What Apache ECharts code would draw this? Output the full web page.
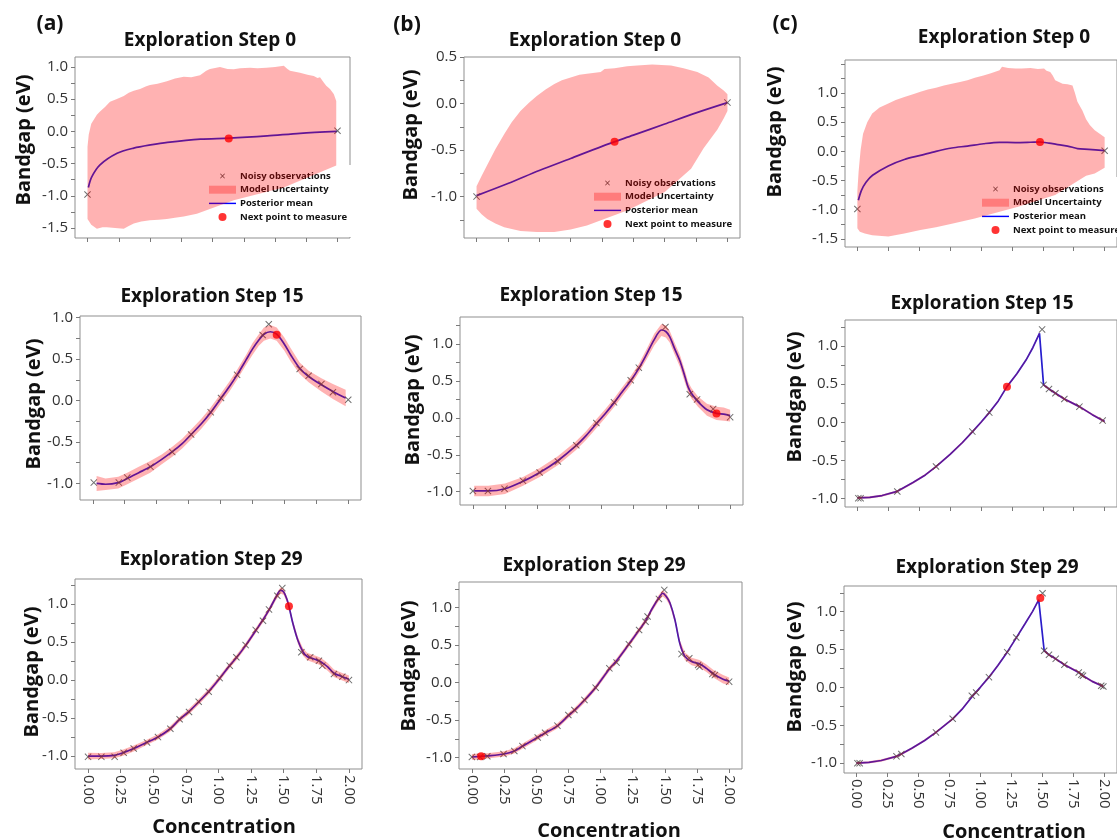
<!DOCTYPE html>
<html>
<head>
<meta charset="utf-8">
<script src="https://cdn.jsdelivr.net/npm/echarts@6/dist/echarts.min.js"></script>
<style>html,body{margin:0;padding:0;background:#fff}#c{width:1117px;height:839px}</style>
</head>
<body>
<div id="c"></div>
<script>
// ---------------- DATA ----------------
const xTicks = [0, 0.25, 0.5, 0.75, 1, 1.25, 1.5, 1.75, 2];

const yTicksA1 = [-1.5,-1.25,-1,-0.75,-0.5,-0.25,0,0.25,0.5,0.75,1];
const yLabelsA1 = [-1.5,-1,-0.5,0,0.5,1];
const yTicksB1 = [-1.25,-1,-0.75,-0.5,-0.25,0,0.25,0.5];
const yLabelsB1 = [-1,-0.5,0,0.5];
const yTicksC1 = [-1.5,-1.25,-1,-0.75,-0.5,-0.25,0,0.25,0.5,0.75,1,1.25,1.5];
const yLabelsC1 = [-1.5,-1,-0.5,0,0.5,1];
const yTicksA2 = [-1,-0.75,-0.5,-0.25,0,0.25,0.5,0.75,1];
const yTicksStd = [-1,-0.75,-0.5,-0.25,0,0.25,0.5,0.75,1,1.25];
const yLabelsStd = [-1,-0.5,0,0.5,1];

const titles = ['Exploration Step 0','Exploration Step 0','Exploration Step 0',
                'Exploration Step 15','Exploration Step 15','Exploration Step 15',
                'Exploration Step 29','Exploration Step 29','Exploration Step 29'];
const legendNames = ['Noisy observations','Model Uncertainty','Posterior mean','Next point to measure'];

// ----- (a) Step 0
const a1Obs = [[0.0,-0.98],[2.0,0.01]];
const a1Next = [1.13,-0.11];
const a1Mean = [[0.007,-0.87],[0.033,-0.71],[0.10,-0.52],[0.237,-0.34],[0.37,-0.26],[0.504,-0.21],[0.64,-0.17],[0.904,-0.12],[1.133,-0.105],[1.437,-0.07],[1.70,-0.03],[1.997,0.0]];
const a1Upper = [[0.0,-0.24],[0.01,-0.05],[0.03,0.12],[0.075,0.26],[0.10,0.31],[0.14,0.38],[0.18,0.46],[0.23,0.50],[0.29,0.55],[0.33,0.60],[0.37,0.63],[0.42,0.66],[0.47,0.70],[0.50,0.72],[0.56,0.74],[0.635,0.78],[0.70,0.82],[0.77,0.85],[0.83,0.84],[0.90,0.87],[0.95,0.94],[0.98,0.97],[1.03,0.99],[1.06,1.0],[1.12,0.97],[1.17,0.965],[1.22,0.98],[1.30,0.99],[1.36,0.98],[1.43,0.99],[1.50,1.0],[1.57,1.02],[1.60,0.97],[1.62,0.94],[1.70,0.91],[1.76,0.88],[1.81,0.86],[1.84,0.83],[1.86,0.84],[1.89,0.76],[1.91,0.71],[1.94,0.66],[1.97,0.58],[1.99,0.47]];
const a1Lower = [[0.0,-1.36],[0.03,-1.45],[0.075,-1.51],[0.12,-1.49],[0.155,-1.49],[0.22,-1.50],[0.29,-1.51],[0.33,-1.47],[0.37,-1.43],[0.43,-1.40],[0.50,-1.38],[0.57,-1.37],[0.635,-1.36],[0.70,-1.34],[0.77,-1.32],[0.875,-1.28],[1.17,-1.07],[1.57,-0.87],[1.99,-0.53]];

// ----- (b) Step 0
const b1Obs = [[0.0,-1.0],[2.0,0.01]];
const b1Next = [1.10,-0.41];
const b1Mean = [[0.0,-0.99],[0.25,-0.86],[0.5,-0.72],[0.75,-0.59],[1.0,-0.46],[1.25,-0.34],[1.5,-0.22],[1.75,-0.10],[2.0,0.01]];
const b1Upper = [[0.0,-0.89],[0.04,-0.78],[0.085,-0.66],[0.15,-0.49],[0.22,-0.33],[0.28,-0.20],[0.35,-0.08],[0.42,0.01],[0.48,0.08],[0.55,0.15],[0.62,0.21],[0.68,0.25],[0.75,0.28],[0.82,0.31],[0.88,0.32],[0.99,0.34],[1.02,0.37],[1.10,0.38],[1.20,0.40],[1.28,0.41],[1.40,0.42],[1.55,0.41],[1.65,0.38],[1.76,0.34],[1.85,0.28],[1.92,0.19],[1.97,0.14],[2.0,0.10]];
const b1Lower = [[0.0,-1.13],[0.04,-1.19],[0.085,-1.24],[0.15,-1.29],[0.22,-1.33],[0.35,-1.37],[0.48,-1.38],[0.62,-1.38],[0.75,-1.355],[0.88,-1.31],[1.2,-1.15],[1.5,-0.95],[1.71,-0.70],[1.81,-0.48],[1.92,-0.28],[1.97,-0.16],[2.0,-0.08]];

// ----- (c) Step 0
const c1Obs = [[0.0,-0.99],[2.0,0.01]];
const c1Next = [1.477,0.16];
const c1Mean = [[0.008,-0.84],[0.033,-0.67],[0.07,-0.53],[0.123,-0.41],[0.25,-0.25],[0.38,-0.14],[0.51,-0.07],[0.636,0.0],[0.764,0.057],[0.89,0.09],[1.02,0.13],[1.15,0.154],[1.277,0.15],[1.40,0.155],[1.477,0.16],[1.55,0.14],[1.61,0.12],[1.70,0.09],[1.74,0.07],[1.78,0.046],[1.87,0.034],[2.0,0.012]];
const c1Upper = [[0.0,-0.68],[0.01,-0.35],[0.026,0.02],[0.046,0.30],[0.08,0.50],[0.12,0.65],[0.18,0.75],[0.25,0.82],[0.31,0.88],[0.38,0.93],[0.45,0.98],[0.51,1.02],[0.57,1.06],[0.636,1.09],[0.70,1.13],[0.764,1.16],[0.83,1.19],[0.89,1.22],[0.95,1.26],[1.02,1.30],[1.08,1.34],[1.15,1.39],[1.17,1.45],[1.22,1.43],[1.28,1.42],[1.33,1.42],[1.40,1.43],[1.46,1.41],[1.51,1.42],[1.53,1.38],[1.56,1.36],[1.58,1.30],[1.60,1.22],[1.63,1.19],[1.66,1.16],[1.70,1.15],[1.74,1.13],[1.76,1.0],[1.78,0.85],[1.82,0.70],[1.85,0.55],[1.88,0.45],[1.92,0.36],[1.96,0.30],[2.0,0.24]];
const c1Lower = [[0.0,-1.32],[0.02,-1.38],[0.06,-1.41],[0.12,-1.44],[0.25,-1.46],[0.38,-1.41],[0.51,-1.35],[0.636,-1.30],[0.764,-1.24],[0.95,-1.15],[1.3,-0.95],[1.6,-0.75],[1.85,-0.42],[1.92,-0.38],[2.0,-0.28]];

// ----- (a) Step 15
const a2Obs = [[0.008,-0.99],[0.204,-0.99],[0.27,-0.93],[0.452,-0.80],[0.622,-0.62],[0.77,-0.41],[0.923,-0.14],[1.004,0.03],[1.13,0.31],[1.33,0.79],[1.378,0.92],[1.62,0.38],[1.69,0.30],[1.79,0.20],[1.88,0.10],[2.0,0.01]];
const a2Next = [1.44,0.795];
const a2Mean = [[0.03,-1.0],[0.10,-1.01],[0.20,-0.99],[0.27,-0.94],[0.36,-0.87],[0.45,-0.80],[0.54,-0.71],[0.62,-0.62],[0.70,-0.52],[0.77,-0.41],[0.85,-0.28],[0.92,-0.15],[1.00,0.02],[1.07,0.17],[1.13,0.31],[1.20,0.49],[1.25,0.62],[1.30,0.73],[1.34,0.80],[1.39,0.83],[1.44,0.80],[1.50,0.68],[1.55,0.55],[1.62,0.39],[1.69,0.29],[1.79,0.19],[1.88,0.11],[1.98,0.03]];
const a2Band = [[0.03,-1.09,-0.91],[0.10,-1.08,-0.94],[0.20,-1.06,-0.92],[0.27,-1.01,-0.87],[0.36,-0.94,-0.80],[0.45,-0.87,-0.73],[0.54,-0.77,-0.65],[0.62,-0.68,-0.56],[0.70,-0.58,-0.46],[0.77,-0.47,-0.35],[0.85,-0.34,-0.22],[0.92,-0.21,-0.09],[1.00,-0.04,0.08],[1.07,0.11,0.23],[1.13,0.25,0.37],[1.20,0.43,0.55],[1.25,0.55,0.69],[1.30,0.66,0.80],[1.34,0.72,0.88],[1.39,0.75,0.91],[1.44,0.72,0.88],[1.50,0.60,0.76],[1.55,0.47,0.63],[1.62,0.32,0.46],[1.69,0.22,0.36],[1.79,0.11,0.27],[1.88,0.02,0.20],[1.98,-0.07,0.13]];

// ----- (b) Step 15
const b2Obs = [[0.0,-0.99],[0.117,-0.99],[0.246,-0.96],[0.389,-0.85],[0.519,-0.74],[0.661,-0.59],[0.804,-0.37],[0.96,-0.07],[1.097,0.21],[1.227,0.51],[1.29,0.68],[1.497,1.23],[1.686,0.32],[1.743,0.25],[1.868,0.12],[2.0,0.01]];
const b2Next = [1.894,0.06];
const b2Mean = [[0.01,-0.99],[0.12,-0.99],[0.25,-0.96],[0.39,-0.86],[0.52,-0.74],[0.66,-0.58],[0.80,-0.38],[0.88,-0.24],[0.96,-0.08],[1.03,0.06],[1.10,0.21],[1.16,0.35],[1.23,0.51],[1.29,0.67],[1.35,0.86],[1.41,1.06],[1.466,1.19],[1.50,1.17],[1.53,1.10],[1.57,0.93],[1.61,0.77],[1.65,0.55],[1.673,0.42],[1.70,0.33],[1.75,0.22],[1.82,0.11],[1.894,0.06],[1.95,0.05],[2.0,0.03]];
const b2Band = [[0.01,-1.06,-0.92],[0.12,-1.06,-0.92],[0.25,-1.03,-0.89],[0.39,-0.92,-0.80],[0.52,-0.80,-0.68],[0.66,-0.64,-0.52],[0.80,-0.44,-0.32],[0.88,-0.30,-0.18],[0.96,-0.14,-0.02],[1.03,0.00,0.12],[1.10,0.15,0.27],[1.16,0.29,0.41],[1.23,0.45,0.57],[1.29,0.61,0.73],[1.35,0.79,0.93],[1.41,0.98,1.14],[1.466,1.11,1.27],[1.50,1.09,1.25],[1.53,1.02,1.18],[1.57,0.85,1.01],[1.61,0.69,0.85],[1.65,0.47,0.63],[1.673,0.35,0.49],[1.70,0.26,0.40],[1.75,0.15,0.29],[1.82,0.03,0.19],[1.894,-0.03,0.15],[1.95,-0.04,0.14],[2.0,-0.05,0.11]];

// ----- (c) Step 15
const c2Obs = [[0.008,-0.994],[0.026,-0.994],[0.323,-0.907],[0.636,-0.58],[0.93,-0.122],[1.067,0.127],[1.494,1.217],[1.506,0.49],[1.55,0.436],[1.602,0.38],[1.674,0.305],[1.796,0.205],[1.984,0.022]];
const c2Next = [1.21,0.467];
const c2Mean = [[0.0,-0.99],[0.1,-0.985],[0.2,-0.96],[0.323,-0.905],[0.45,-0.79],[0.55,-0.69],[0.636,-0.58],[0.75,-0.42],[0.85,-0.265],[0.93,-0.125],[1.0,0.0],[1.067,0.127],[1.14,0.28],[1.21,0.467],[1.29,0.635],[1.364,0.815],[1.42,0.98],[1.473,1.165],[1.506,0.49],[1.55,0.437],[1.602,0.38],[1.674,0.305],[1.796,0.205],[1.90,0.10],[2.0,0.01]];
const c2Band = [[0.0,-1.005,-0.975],[0.1,-1.0,-0.97],[0.2,-0.975,-0.945],[0.323,-0.92,-0.89],[0.45,-0.805,-0.775],[0.55,-0.705,-0.675],[0.636,-0.595,-0.565],[0.75,-0.435,-0.405],[0.85,-0.28,-0.25],[0.93,-0.14,-0.11],[1.0,-0.015,0.015],[1.067,0.112,0.142],[1.14,0.265,0.295],[1.21,0.452,0.482],[1.29,0.62,0.65],[1.364,0.80,0.83],[1.42,0.965,0.995],[1.473,1.15,1.18],[1.506,0.475,0.505],[1.55,0.422,0.452],[1.602,0.365,0.395],[1.674,0.29,0.32],[1.796,0.19,0.22],[1.90,0.085,0.115],[2.0,-0.005,0.025]];

// ----- (a) Step 29
const a3Obs = [[0.0,-1.01],[0.102,-1.01],[0.204,-1.01],[0.273,-0.956],[0.35,-0.90],[0.452,-0.82],[0.536,-0.75],[0.631,-0.64],[0.702,-0.515],[0.774,-0.42],[0.848,-0.286],[0.925,-0.154],[1.009,0.026],[1.086,0.19],[1.137,0.30],[1.208,0.46],[1.285,0.66],[1.341,0.78],[1.387,0.93],[1.451,1.11],[1.489,1.21],[1.635,0.366],[1.703,0.30],[1.77,0.255],[1.796,0.19],[1.885,0.08],[1.949,0.044],[2.0,0.0]];
const a3Next = [1.54,0.97];
const a3Mean = [[0.0,-1.0],[0.10,-1.0],[0.20,-0.99],[0.27,-0.955],[0.35,-0.90],[0.45,-0.82],[0.54,-0.745],[0.63,-0.64],[0.70,-0.52],[0.77,-0.42],[0.85,-0.285],[0.925,-0.15],[1.01,0.025],[1.085,0.19],[1.14,0.30],[1.21,0.46],[1.285,0.65],[1.34,0.79],[1.39,0.93],[1.44,1.09],[1.476,1.18],[1.50,1.16],[1.525,1.06],[1.54,0.97],[1.571,0.74],[1.609,0.52],[1.648,0.37],[1.68,0.31],[1.711,0.29],[1.745,0.27],[1.775,0.25],[1.81,0.21],[1.839,0.17],[1.885,0.09],[1.949,0.044],[2.0,0.01]];
const a3Band = [[0.0,-1.045,-0.955],[0.10,-1.04,-0.96],[0.20,-1.03,-0.95],[0.27,-0.995,-0.915],[0.35,-0.94,-0.86],[0.45,-0.855,-0.785],[0.54,-0.78,-0.71],[0.63,-0.675,-0.605],[0.70,-0.555,-0.485],[0.77,-0.455,-0.385],[0.85,-0.32,-0.25],[0.925,-0.185,-0.115],[1.01,-0.01,0.06],[1.085,0.155,0.225],[1.14,0.265,0.335],[1.21,0.425,0.495],[1.285,0.615,0.685],[1.34,0.755,0.825],[1.39,0.895,0.965],[1.44,1.05,1.13],[1.476,1.14,1.22],[1.50,1.12,1.20],[1.525,1.02,1.10],[1.54,0.93,1.01],[1.571,0.70,0.78],[1.609,0.475,0.565],[1.648,0.32,0.42],[1.68,0.26,0.36],[1.711,0.24,0.34],[1.745,0.22,0.32],[1.775,0.20,0.30],[1.81,0.16,0.26],[1.839,0.12,0.22],[1.885,0.04,0.14],[1.949,-0.006,0.094],[2.0,-0.04,0.06]];

// ----- (b) Step 29
const b3Obs = [[0.0,-0.99],[0.065,-0.99],[0.12,-0.98],[0.246,-0.95],[0.33,-0.91],[0.393,-0.845],[0.512,-0.73],[0.569,-0.667],[0.665,-0.573],[0.75,-0.43],[0.797,-0.364],[0.875,-0.23],[0.962,-0.067],[1.069,0.19],[1.125,0.267],[1.221,0.51],[1.30,0.70],[1.35,0.81],[1.366,0.88],[1.454,1.115],[1.496,1.235],[1.63,0.38],[1.69,0.324],[1.759,0.236],[1.77,0.21],[1.87,0.116],[1.889,0.10],[2.0,0.013]];
const b3Next = [0.072,-0.98];
const b3Mean = [[0.0,-0.99],[0.07,-0.98],[0.12,-0.975],[0.25,-0.95],[0.33,-0.91],[0.39,-0.85],[0.51,-0.73],[0.57,-0.67],[0.665,-0.575],[0.75,-0.44],[0.80,-0.365],[0.875,-0.235],[0.96,-0.07],[1.07,0.185],[1.125,0.29],[1.22,0.51],[1.30,0.70],[1.35,0.82],[1.40,0.98],[1.454,1.13],[1.483,1.19],[1.51,1.15],[1.54,1.06],[1.578,0.84],[1.617,0.52],[1.656,0.35],[1.708,0.28],[1.77,0.25],[1.824,0.19],[1.876,0.12],[1.953,0.044],[2.0,0.02]];
const b3Band = [[0.0,-1.03,-0.95],[0.07,-1.02,-0.94],[0.12,-1.01,-0.94],[0.25,-0.985,-0.915],[0.33,-0.945,-0.875],[0.39,-0.885,-0.815],[0.51,-0.765,-0.695],[0.57,-0.705,-0.635],[0.665,-0.61,-0.54],[0.75,-0.475,-0.405],[0.80,-0.40,-0.33],[0.875,-0.27,-0.20],[0.96,-0.105,-0.035],[1.07,0.15,0.22],[1.125,0.255,0.325],[1.22,0.475,0.545],[1.30,0.665,0.735],[1.35,0.785,0.855],[1.40,0.945,1.015],[1.454,1.09,1.17],[1.483,1.15,1.23],[1.51,1.11,1.19],[1.54,1.02,1.10],[1.578,0.80,0.88],[1.617,0.475,0.565],[1.656,0.30,0.40],[1.708,0.23,0.33],[1.77,0.20,0.30],[1.824,0.14,0.24],[1.876,0.07,0.17],[1.953,-0.01,0.10],[2.0,-0.03,0.07]];

// ----- (c) Step 29
const c3Obs = [[0.008,-1.0],[0.026,-1.0],[0.323,-0.91],[0.362,-0.88],[0.641,-0.594],[0.776,-0.414],[0.93,-0.11],[0.965,-0.066],[1.068,0.136],[1.215,0.466],[1.288,0.66],[1.5,1.245],[1.513,0.484],[1.552,0.431],[1.606,0.378],[1.676,0.30],[1.792,0.198],[1.813,0.167],[1.826,0.154],[1.973,0.022],[1.99,0.013]];
const c3Next = [1.482,1.18];
const c3Mean = [[0.0,-1.0],[0.1,-0.99],[0.2,-0.965],[0.323,-0.91],[0.362,-0.88],[0.45,-0.80],[0.55,-0.70],[0.641,-0.594],[0.776,-0.414],[0.85,-0.29],[0.93,-0.125],[1.0,0.005],[1.068,0.136],[1.14,0.29],[1.215,0.466],[1.288,0.655],[1.36,0.845],[1.42,1.005],[1.469,1.157],[1.513,0.488],[1.552,0.431],[1.606,0.378],[1.676,0.30],[1.792,0.198],[1.826,0.154],[1.90,0.08],[1.99,0.013]];
const c3Band = [[0.0,-1.015,-0.985],[0.1,-1.005,-0.975],[0.2,-0.98,-0.95],[0.323,-0.925,-0.895],[0.362,-0.895,-0.865],[0.45,-0.815,-0.785],[0.55,-0.715,-0.685],[0.641,-0.609,-0.579],[0.776,-0.429,-0.399],[0.85,-0.305,-0.275],[0.93,-0.14,-0.11],[1.0,-0.01,0.02],[1.068,0.121,0.151],[1.14,0.275,0.305],[1.215,0.451,0.481],[1.288,0.64,0.67],[1.36,0.83,0.86],[1.42,0.99,1.02],[1.469,1.142,1.172],[1.513,0.473,0.503],[1.552,0.416,0.446],[1.606,0.363,0.393],[1.676,0.285,0.315],[1.792,0.183,0.213],[1.826,0.139,0.169],[1.90,0.065,0.095],[1.99,-0.002,0.028]];

// ---------------- LAYOUT / STYLE ----------------
const FONT = "'Open Sans', 'Noto Sans', sans-serif";
const BAND = 'rgba(255,0,0,0.3)';
const LINE = '#1f1fd6';
const XPATH = 'path://M1,0L5,4L9,0L10,1L6,5L10,9L9,10L5,6L1,10L0,9L4,5L0,1Z';
// same cross, drawn smaller inside a padded 10x10 box for the legend
const XPATH_LEG = 'path://M0,0L0.01,0L0,0.01Z M10,10L9.99,10L10,9.99Z M2,2.6L2.6,2L5,4.4L7.4,2L8,2.6L5.6,5L8,7.4L7.4,8L5,5.6L2.6,8L2,7.4L4.4,5Z';

const panels = [
  {grid:[75,57,275,181],  y:[-1.655,1.155], yt:yTicksA1, yl:yLabelsA1, obs:a1Obs, next:a1Next, mean:a1Mean, up:a1Upper, lo:a1Lower, smooth:0.3, xl:false},
  {grid:[464,57,276,181], y:[-1.445,0.5],   yt:yTicksB1, yl:yLabelsB1, obs:b1Obs, next:b1Next, mean:b1Mean, up:b1Upper, lo:b1Lower, smooth:0.3, xl:false},
  {grid:[845,60,286,187], y:[-1.64,1.565],  yt:yTicksC1, yl:yLabelsC1, obs:c1Obs, next:c1Next, mean:c1Mean, up:c1Upper, lo:c1Lower, smooth:0.3, xl:false},
  {grid:[80,316,281,184], y:[-1.2,1.02],    yt:yTicksA2, yl:yLabelsStd, obs:a2Obs, next:a2Next, mean:a2Mean, band:a2Band, smooth:0.3, xl:false},
  {grid:[460,317,283,188],y:[-1.18,1.366],  yt:yTicksStd, yl:yLabelsStd, obs:b2Obs, next:b2Next, mean:b2Mean, band:b2Band, smooth:0.3, xl:false},
  {grid:[845,320,284,187],y:[-1.11,1.34],   yt:yTicksStd, yl:yLabelsStd, obs:c2Obs, next:c2Next, mean:c2Mean, band:c2Band, smooth:false, xl:false},
  {grid:[75,579,287,190], y:[-1.17,1.33],   yt:yTicksStd, yl:yLabelsStd, obs:a3Obs, next:a3Next, mean:a3Mean, band:a3Band, smooth:0.3, xl:true},
  {grid:[459,582,283,187],y:[-1.15,1.34],   yt:yTicksStd, yl:yLabelsStd, obs:b3Obs, next:b3Next, mean:b3Mean, band:b3Band, smooth:0.3, xl:true},
  {grid:[844,586,284,187],y:[-1.13,1.34],   yt:yTicksStd, yl:yLabelsStd, obs:c3Obs, next:c3Next, mean:c3Mean, band:c3Band, smooth:false, xl:true}
];

const titlePos = [[210,41],[595,41],[1004,38],[212,297],[591,296],[982,304],[211,560],[594,566],[987,568]];
const ylabelPos = [[24,140],[411,135],[775,132],[34,404],[413,400],[795,397],[32,672],[409,666],[795,667]];
const panelLabels = [['(a)',50,24],['(b)',407,25],['(c)',785,24]];
const xNamePos = [[224,827],[609,831],[1014,832]];

const grids = [], xAxes = [], yAxes = [], series = [];
panels.forEach((p, i) => {
  grids.push({left:p.grid[0], top:p.grid[1], width:p.grid[2], height:p.grid[3], show:true,
              borderColor:'#8f8f8f', borderWidth:1, backgroundColor:'transparent', containLabel:false});
  xAxes.push({type:'value', gridIndex:i, min:-0.1, max:2.1, position:'bottom',
    axisLine:{show:false, onZero:false}, splitLine:{show:false},
    axisTick:{show:true, customValues:xTicks, length:4, inside:false, lineStyle:{color:'#7a7a7a'}},
    axisLabel:{show:p.xl, customValues:xTicks, rotate:-90, margin:6,
      formatter:v => v.toFixed(2), fontFamily:FONT, fontSize:15, color:'#333'}});
  yAxes.push({type:'value', gridIndex:i, min:p.y[0], max:p.y[1], position:'left',
    axisLine:{show:false, onZero:false}, splitLine:{show:false},
    axisTick:{show:true, customValues:p.yt, length:4, lineStyle:{color:'#7a7a7a'}},
    axisLabel:{customValues:p.yl, margin:7, formatter:v => v.toFixed(1),
      fontFamily:FONT, fontSize:15, color:'#333'}});
  let up, lo;
  if (p.band) { up = p.band.map(b => [b[0], b[2]]); lo = p.band.map(b => [b[0], b[1]]); }
  else { up = p.up; lo = p.lo; }
  const poly = up.concat(lo.slice().reverse());
  series.push({type:'line', name:'Posterior mean', xAxisIndex:i, yAxisIndex:i, data:p.mean,
    showSymbol:false, symbol:'none', smooth:p.smooth, lineStyle:{color:LINE, width:1.7},
    itemStyle:{color:LINE}, z:2, silent:true});
  series.push({type:'scatter', name:'Noisy observations', xAxisIndex:i, yAxisIndex:i, data:p.obs,
    symbol:XPATH, symbolSize:7, itemStyle:{color:'#4a4a4a'}, z:3, silent:true});
  series.push({type:'custom', name:'Model Uncertainty', xAxisIndex:i, yAxisIndex:i, data:poly,
    encode:{x:0, y:1}, itemStyle:{color:BAND}, z:4, silent:true,
    renderItem:(params, api) => {
      if (params.dataIndex !== 0) return null;
      const pts = poly.map(d => api.coord(d));
      return {type:'polygon', shape:{points:pts}, style:{fill:BAND, stroke:null}};
    }});
  series.push({type:'scatter', name:'Next point to measure', xAxisIndex:i, yAxisIndex:i, data:[p.next],
    symbol:'circle', symbolSize:8, itemStyle:{color:'#ff0000'}, z:5, silent:true});
});

const legendData = [
  {name:legendNames[0], icon:XPATH_LEG, itemStyle:{color:'#111'}},
  {name:legendNames[1], icon:'rect', itemStyle:{color:BAND}},
  {name:legendNames[2], icon:'path://M0,0H30V1.6H0Z', itemStyle:{color:'#0000ff'}},
  {name:legendNames[3], icon:'circle', itemStyle:{color:'#ff0000'}}
];
function mkLegend(left, top, padding) {
  return {show:true, orient:'vertical', left, top, padding, data:legendData,
    itemWidth:27, itemHeight:8, itemGap:3.7, selectedMode:false, backgroundColor:'#ffffff',
    borderWidth:0, itemStyle:{borderWidth:0}, symbolKeepAspect:true,
    textStyle:{fontFamily:FONT, fontWeight:'bold', fontSize:9.5, lineHeight:10, color:'#111', padding:[0,0,0,-1]}};
}

const gElems = [];
titles.forEach((t, i) => gElems.push({type:'text', x:titlePos[i][0], y:titlePos[i][1], silent:true,
  style:{text:t, fontFamily:FONT, fontWeight:'bold', fontSize:19, fill:'#111', align:'center', verticalAlign:'middle'}}));
ylabelPos.forEach(pp => gElems.push({type:'text', x:pp[0], y:pp[1], rotation:Math.PI/2, silent:true,
  style:{text:'Bandgap (eV)', fontFamily:FONT, fontWeight:'bold', fontSize:20, fill:'#111', align:'center', verticalAlign:'middle'}}));
panelLabels.forEach(pl => gElems.push({type:'text', x:pl[1], y:pl[2], silent:true,
  style:{text:pl[0], fontFamily:FONT, fontWeight:'bold', fontSize:21, fill:'#111', align:'center', verticalAlign:'middle'}}));
xNamePos.forEach(pp => gElems.push({type:'text', x:pp[0], y:pp[1], silent:true,
  style:{text:'Concentration', fontFamily:FONT, fontWeight:'bold', fontSize:20, fill:'#111', align:'center', verticalAlign:'middle'}}));

const chart = echarts.init(document.getElementById('c'), null, {renderer:'canvas', width:1117, height:839});
chart.setOption({
  animation:false,
  backgroundColor:'#ffffff',
  grid:grids, xAxis:xAxes, yAxis:yAxes, series,
  legend:[mkLegend(195,165,[6,4,15,14]), mkLegend(588,169,[9,3,4,6]), mkLegend(980,177,[7,3,2,2])],
  graphic:{elements:gElems}
});
</script>
</body>
</html>
